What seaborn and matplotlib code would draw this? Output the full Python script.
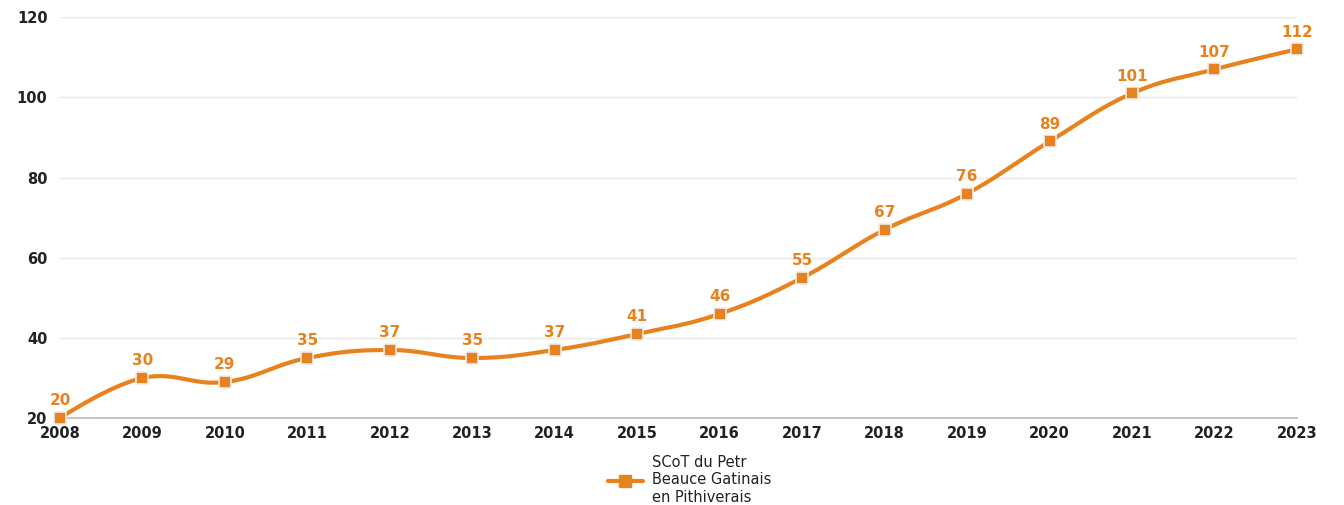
import numpy as np
import pandas as pd
import seaborn as sns
import matplotlib
matplotlib.use("Agg")
import matplotlib.pyplot as plt
from matplotlib.lines import Line2D

years = [2008, 2009, 2010, 2011, 2012, 2013, 2014, 2015,
         2016, 2017, 2018, 2019, 2020, 2021, 2022, 2023]
values = [20, 30, 29, 35, 37, 35, 37, 41, 46, 55, 67, 76, 89, 101, 107, 112]
series_name = "SCoT du Petr\nBeauce Gatinais\nen Pithiverais"
y_ticks = [20, 40, 60, 80, 100, 120]

ORANGE = "#E8821E"

df = pd.DataFrame({"year": years, "value": values})


def _ctrl(x, y, i, tension):
    lx, ly = x[i - 1], y[i - 1]
    rx, ry = x[i + 1], y[i + 1]
    lcx = (tension * x[i] + lx) / (tension + 1)
    lcy = (tension * y[i] + ly) / (tension + 1)
    rcx = (tension * x[i] + rx) / (tension + 1)
    rcy = (tension * y[i] + ry) / (tension + 1)
    corr = ((rcy - lcy) * (rcx - x[i])) / (rcx - lcx) + y[i] - rcy
    return (lcx, lcy + corr), (rcx, rcy + corr)


def smooth_curve(x, y, n=30, tension=1.5):
    """Spline-style curve through the points (Highcharts-like control points)."""
    x = np.asarray(x, float)
    y = np.asarray(y, float)
    xs, ys = [x[0]], [y[0]]
    for i in range(len(x) - 1):
        j = i + 1
        c1 = (x[i], y[i]) if i == 0 else _ctrl(x, y, i, tension)[1]
        c2 = (x[j], y[j]) if j == len(x) - 1 else _ctrl(x, y, j, tension)[0]
        t = np.linspace(0, 1, n)[1:]
        bx = ((1 - t) ** 3 * x[i] + 3 * (1 - t) ** 2 * t * c1[0]
              + 3 * (1 - t) * t ** 2 * c2[0] + t ** 3 * x[j])
        by = ((1 - t) ** 3 * y[i] + 3 * (1 - t) ** 2 * t * c1[1]
              + 3 * (1 - t) * t ** 2 * c2[1] + t ** 3 * y[j])
        xs.extend(bx)
        ys.extend(by)
    return np.array(xs), np.array(ys)


sns.set_theme(style="white")
plt.rcParams["font.family"] = ["DejaVu Sans"]

fig = plt.figure(figsize=(13.44, 5.05), dpi=100)
ax = fig.add_axes([0.0446, 0.172, 0.9204, 0.794])

cx, cy = smooth_curve(df["year"], df["value"])
smooth = pd.DataFrame({"year": cx, "value": cy})
sns.lineplot(data=smooth, x="year", y="value", ax=ax, color=ORANGE,
             linewidth=3, sort=False, estimator=None, zorder=3)
sns.scatterplot(data=df, x="year", y="value", ax=ax, marker="s", s=70,
                color=ORANGE, edgecolor="#eeeeee", linewidth=1.2, zorder=4)

for yr, v in zip(years, values):
    ax.annotate(str(v), (yr, v), xytext=(0, 7), textcoords="offset points",
                ha="center", va="bottom", color=ORANGE, fontsize=11,
                fontweight="semibold", zorder=5)

ax.set_xlim(years[0], years[-1])
ax.set_ylim(20, 120)
ax.set_xticks(years)
ax.set_yticks(y_ticks)
ax.tick_params(axis="both", labelsize=10.5, colors="#222222", length=0)
ax.tick_params(axis="x", pad=6)
ax.tick_params(axis="y", pad=9)
for lab in ax.get_xticklabels() + ax.get_yticklabels():
    lab.set_fontweight("semibold")
ax.set_xlabel("")
ax.set_ylabel("")
ax.grid(axis="y", color="#e8e8e8", linewidth=1)
for side in ["top", "right", "left"]:
    ax.spines[side].set_visible(False)
ax.spines["bottom"].set_color("#bbbbbb")
ax.spines["bottom"].set_linewidth(1.2)
for c in ax.collections + ax.lines:
    c.set_clip_on(False)

handle = Line2D([], [], color=ORANGE, linewidth=3, marker="s",
                markersize=9, markerfacecolor=ORANGE, markeredgecolor=ORANGE)
leg = fig.legend([handle], [series_name], loc="center",
                 bbox_to_anchor=(0.513, 0.05), frameon=False,
                 fontsize=10.5, handlelength=2.4, handletextpad=0.6)
for t in leg.get_texts():
    t.set_color("#222222")

fig.savefig("out.png", dpi=100, facecolor="white")
